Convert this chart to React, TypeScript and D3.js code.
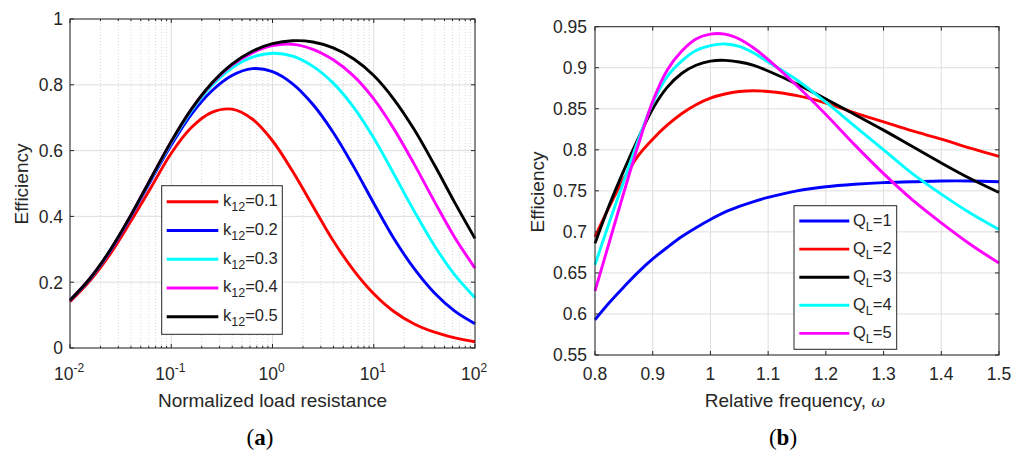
import React from 'react';
import * as d3 from 'd3';

// ---------- Panel (a) data ----------
const loadR = [0.01, 0.0158, 0.0251, 0.0398, 0.0631, 0.1, 0.158, 0.251, 0.398, 0.631, 1, 1.58, 2.51, 3.98, 6.31, 10, 15.8, 25.1, 39.8, 63.1, 100];
const k12Labels = ['0.1', '0.2', '0.3', '0.4', '0.5'];
const effK01 = [0.141, 0.205, 0.287, 0.385, 0.488, 0.592, 0.670, 0.716, 0.726, 0.696, 0.630, 0.537, 0.431, 0.326, 0.237, 0.165, 0.111, 0.073, 0.048, 0.031, 0.019];
const effK02 = [0.144, 0.210, 0.296, 0.399, 0.510, 0.617, 0.710, 0.781, 0.828, 0.849, 0.840, 0.803, 0.740, 0.655, 0.552, 0.440, 0.333, 0.241, 0.167, 0.112, 0.074];
const effK03 = [0.145, 0.211, 0.298, 0.401, 0.514, 0.624, 0.721, 0.797, 0.851, 0.884, 0.896, 0.887, 0.856, 0.805, 0.732, 0.638, 0.529, 0.416, 0.311, 0.222, 0.153];
const effK04 = [0.145, 0.212, 0.298, 0.402, 0.516, 0.627, 0.725, 0.803, 0.860, 0.897, 0.919, 0.923, 0.908, 0.876, 0.827, 0.757, 0.666, 0.559, 0.445, 0.336, 0.243];
const effK05 = [0.145, 0.212, 0.299, 0.403, 0.516, 0.628, 0.726, 0.805, 0.863, 0.902, 0.925, 0.934, 0.930, 0.912, 0.879, 0.828, 0.756, 0.664, 0.556, 0.442, 0.333];
const leftXTicks = [0.01, 0.1, 1, 10, 100];
const leftXTickExp = ['-2', '-1', '0', '1', '2'];
const leftYTicks = [0, 0.2, 0.4, 0.6, 0.8, 1];
const leftYTickLabels = ['0', '0.2', '0.4', '0.6', '0.8', '1'];

// ---------- Panel (b) data ----------
const freq = [0.8, 0.825, 0.85, 0.875, 0.9, 0.925, 0.95, 0.975, 1.0, 1.025, 1.05, 1.075, 1.1, 1.15, 1.2, 1.25, 1.3, 1.35, 1.4, 1.45, 1.5];
const qlLabels = ['1', '2', '3', '4', '5'];
const effQ1 = [0.593, 0.614, 0.633, 0.651, 0.667, 0.681, 0.694, 0.705, 0.715, 0.724, 0.731, 0.737, 0.742, 0.750, 0.755, 0.758, 0.760, 0.761, 0.762, 0.762, 0.761];
const effQ2 = [0.694, 0.731, 0.765, 0.793, 0.813, 0.830, 0.844, 0.855, 0.863, 0.868, 0.871, 0.872, 0.871, 0.866, 0.857, 0.845, 0.834, 0.823, 0.813, 0.802, 0.792];
const effQ3 = [0.686, 0.733, 0.775, 0.814, 0.850, 0.876, 0.893, 0.903, 0.908, 0.909, 0.907, 0.903, 0.896, 0.880, 0.862, 0.843, 0.824, 0.804, 0.784, 0.765, 0.748];
const effQ4 = [0.660, 0.712, 0.762, 0.812, 0.857, 0.889, 0.908, 0.921, 0.927, 0.929, 0.926, 0.918, 0.907, 0.885, 0.858, 0.829, 0.800, 0.771, 0.746, 0.723, 0.703];
const effQ5 = [0.628, 0.688, 0.748, 0.806, 0.859, 0.897, 0.920, 0.935, 0.941, 0.941, 0.935, 0.924, 0.910, 0.878, 0.843, 0.806, 0.771, 0.739, 0.711, 0.685, 0.662];
const rightXTicks = [0.8, 0.9, 1.0, 1.1, 1.2, 1.3, 1.4, 1.5];
const rightXTickLabels = ['0.8', '0.9', '1', '1.1', '1.2', '1.3', '1.4', '1.5'];
const rightYTicks = [0.55, 0.6, 0.65, 0.7, 0.75, 0.8, 0.85, 0.9, 0.95];
const rightYTickLabels = ['0.55', '0.6', '0.65', '0.7', '0.75', '0.8', '0.85', '0.9', '0.95'];

const FONT = '"Liberation Sans", Arial, Helvetica, sans-serif';
const AX = '#262626';
const GRID = '#dedede';
const MINOR = '#cfcfcf';
const LW = 2.9;

const leftSeries = [
  { vals: effK01, color: '#ff0000', label: k12Labels[0] },
  { vals: effK02, color: '#0000ff', label: k12Labels[1] },
  { vals: effK03, color: '#00ffff', label: k12Labels[2] },
  { vals: effK04, color: '#ff00ff', label: k12Labels[3] },
  { vals: effK05, color: '#000000', label: k12Labels[4] },
];
const rightSeries = [
  { vals: effQ1, color: '#0000ff', label: qlLabels[0] },
  { vals: effQ2, color: '#ff0000', label: qlLabels[1] },
  { vals: effQ3, color: '#000000', label: qlLabels[2] },
  { vals: effQ4, color: '#00ffff', label: qlLabels[3] },
  { vals: effQ5, color: '#ff00ff', label: qlLabels[4] },
];

function LeftPanel() {
  const x = d3.scaleLog().domain([0.01, 100]).range([70, 475]);
  const y = d3.scaleLinear().domain([0, 1]).range([348, 19]);
  const [x0, x1] = x.range();
  const [y0, y1] = y.range();
  const minor = x.ticks().filter((t) => !leftXTicks.some((m) => Math.abs(m - t) / m < 1e-6));
  const mk = (vals: number[]) =>
    d3.line<number>().x((_, i) => x(loadR[i])).y((d) => y(d)).curve(d3.curveCatmullRom.alpha(0.5))(vals) || '';
  const legX = 161.7, legY = 185.7, legW = 120.6, legH = 148.6;
  const rowY = (i: number) => 201.7 + i * 28.75;
  return (
    <g>
      {minor.map((t, i) => (
        <line key={'mg' + i} x1={x(t)} x2={x(t)} y1={y0} y2={y1} stroke={MINOR} strokeWidth={0.8} strokeDasharray="1,2" />
      ))}
      {leftXTicks.map((t, i) => (
        <line key={'vg' + i} x1={x(t)} x2={x(t)} y1={y0} y2={y1} stroke={GRID} strokeWidth={1} />
      ))}
      {leftYTicks.map((t, i) => (
        <line key={'hg' + i} x1={x0} x2={x1} y1={y(t)} y2={y(t)} stroke={GRID} strokeWidth={1} />
      ))}
      {leftSeries.map((s, i) => (
        <path key={'c' + i} d={mk(s.vals)} fill="none" stroke={s.color} strokeWidth={LW} />
      ))}
      <rect x={x0} y={y1} width={x1 - x0} height={y0 - y1} fill="none" stroke={AX} strokeWidth={1} />
      {leftXTicks.map((t, i) => (
        <g key={'xt' + i}>
          <line x1={x(t)} x2={x(t)} y1={y0} y2={y0 - 4} stroke={AX} />
          <line x1={x(t)} x2={x(t)} y1={y1} y2={y1 + 4} stroke={AX} />
        </g>
      ))}
      {minor.map((t, i) => (
        <g key={'mt' + i}>
          <line x1={x(t)} x2={x(t)} y1={y0} y2={y0 - 2.2} stroke={AX} />
          <line x1={x(t)} x2={x(t)} y1={y1} y2={y1 + 2.2} stroke={AX} />
        </g>
      ))}
      {leftYTicks.map((t, i) => (
        <g key={'yt' + i}>
          <line x1={x0} x2={x0 + 4} y1={y(t)} y2={y(t)} stroke={AX} />
          <line x1={x1} x2={x1 - 4} y1={y(t)} y2={y(t)} stroke={AX} />
        </g>
      ))}
      {leftYTicks.map((t, i) => (
        <text key={'yl' + i} x={x0 - 7} y={y(t)} dy="0.36em" textAnchor="end" fontSize={17.5} fill={AX} fontFamily={FONT}>
          {leftYTickLabels[i]}
        </text>
      ))}
      {leftXTicks.map((t, i) => (
        <text key={'xl' + i} x={x(t) - 1} y={380} textAnchor="middle" fontSize={17.5} fill={AX} fontFamily={FONT}>
          10<tspan fontSize={12} dy={-8}>{leftXTickExp[i]}</tspan>
        </text>
      ))}
      <text x={272.5} y={407} textAnchor="middle" fontSize={19} fill={AX} fontFamily={FONT}>Normalized load resistance</text>
      <text transform="translate(27.5,184) rotate(-90)" textAnchor="middle" fontSize={19} fill={AX} fontFamily={FONT}>Efficiency</text>
      <rect x={legX} y={legY} width={legW} height={legH} fill="#ffffff" stroke={AX} strokeWidth={1} />
      {leftSeries.map((s, i) => (
        <g key={'lg' + i}>
          <line x1={166.7} x2={218.3} y1={rowY(i)} y2={rowY(i)} stroke={s.color} strokeWidth={LW} />
          <text x={223} y={rowY(i) + 4.5} fontSize={16.5} fill={AX} fontFamily={FONT}>
            k<tspan fontSize={12.5} dy={5}>12</tspan><tspan dy={-5}>={s.label}</tspan>
          </text>
        </g>
      ))}
    </g>
  );
}

function RightPanel() {
  const x = d3.scaleLinear().domain([0.8, 1.5]).range([595, 999]);
  const y = d3.scaleLinear().domain([0.55, 0.95]).range([355, 26.7]);
  const [x0, x1] = x.range();
  const [y0, y1] = y.range();
  const mk = (vals: number[]) =>
    d3.line<number>().x((_, i) => x(freq[i])).y((d) => y(d)).curve(d3.curveCatmullRom.alpha(0.5))(vals) || '';
  const legX = 794, legY = 205.7, legW = 102.7, legH = 143.6;
  const rowY = (i: number) => 221 + i * 28.1;
  return (
    <g>
      {rightXTicks.map((t, i) => (
        <line key={'vg' + i} x1={x(t)} x2={x(t)} y1={y0} y2={y1} stroke={GRID} strokeWidth={1} />
      ))}
      {rightYTicks.map((t, i) => (
        <line key={'hg' + i} x1={x0} x2={x1} y1={y(t)} y2={y(t)} stroke={GRID} strokeWidth={1} />
      ))}
      {rightSeries.map((s, i) => (
        <path key={'c' + i} d={mk(s.vals)} fill="none" stroke={s.color} strokeWidth={LW} />
      ))}
      <rect x={x0} y={y1} width={x1 - x0} height={y0 - y1} fill="none" stroke={AX} strokeWidth={1} />
      {rightXTicks.map((t, i) => (
        <g key={'xt' + i}>
          <line x1={x(t)} x2={x(t)} y1={y0} y2={y0 - 4} stroke={AX} />
          <line x1={x(t)} x2={x(t)} y1={y1} y2={y1 + 4} stroke={AX} />
        </g>
      ))}
      {rightYTicks.map((t, i) => (
        <g key={'yt' + i}>
          <line x1={x0} x2={x0 + 4} y1={y(t)} y2={y(t)} stroke={AX} />
          <line x1={x1} x2={x1 - 4} y1={y(t)} y2={y(t)} stroke={AX} />
        </g>
      ))}
      {rightYTicks.map((t, i) => (
        <text key={'yl' + i} x={x0 - 8} y={y(t)} dy="0.36em" textAnchor="end" fontSize={17.5} fill={AX} fontFamily={FONT}>
          {rightYTickLabels[i]}
        </text>
      ))}
      {rightXTicks.map((t, i) => (
        <text key={'xl' + i} x={x(t)} y={380} textAnchor="middle" fontSize={17.5} fill={AX} fontFamily={FONT}>
          {rightXTickLabels[i]}
        </text>
      ))}
      <text x={795} y={407} textAnchor="middle" fontSize={19} fill={AX} fontFamily={FONT}>
        Relative frequency, <tspan fontStyle="italic" fontFamily='"DejaVu Serif", serif' fontSize={17}>ω</tspan>
      </text>
      <text transform="translate(544,192) rotate(-90)" textAnchor="middle" fontSize={19} fill={AX} fontFamily={FONT}>Efficiency</text>
      <rect x={legX} y={legY} width={legW} height={legH} fill="#ffffff" stroke={AX} strokeWidth={1} />
      {rightSeries.map((s, i) => (
        <g key={'lg' + i}>
          <line x1={799.3} x2={849.3} y1={rowY(i)} y2={rowY(i)} stroke={s.color} strokeWidth={LW} />
          <text x={853} y={rowY(i) + 4.5} fontSize={16.5} fill={AX} fontFamily={FONT}>
            Q<tspan fontSize={12.5} dy={5}>L</tspan><tspan dy={-5}>={s.label}</tspan>
          </text>
        </g>
      ))}
    </g>
  );
}

export default function App() {
  const serif = '"Liberation Serif", "DejaVu Serif", "Times New Roman", serif';
  return (
    <svg width={1025} height={451} viewBox="0 0 1025 451" style={{ position: 'absolute', left: 0, top: 0, background: '#ffffff' }}>
      <rect x={0} y={0} width={1025} height={451} fill="#ffffff" />
      <LeftPanel />
      <RightPanel />
      <text x={260} y={445} textAnchor="middle" fontSize={23} fill="#000" fontFamily={serif}>
        (<tspan fontWeight="bold">a</tspan>)
      </text>
      <text x={783} y={445} textAnchor="middle" fontSize={23} fill="#000" fontFamily={serif}>
        (<tspan fontWeight="bold">b</tspan>)
      </text>
    </svg>
  );
}
